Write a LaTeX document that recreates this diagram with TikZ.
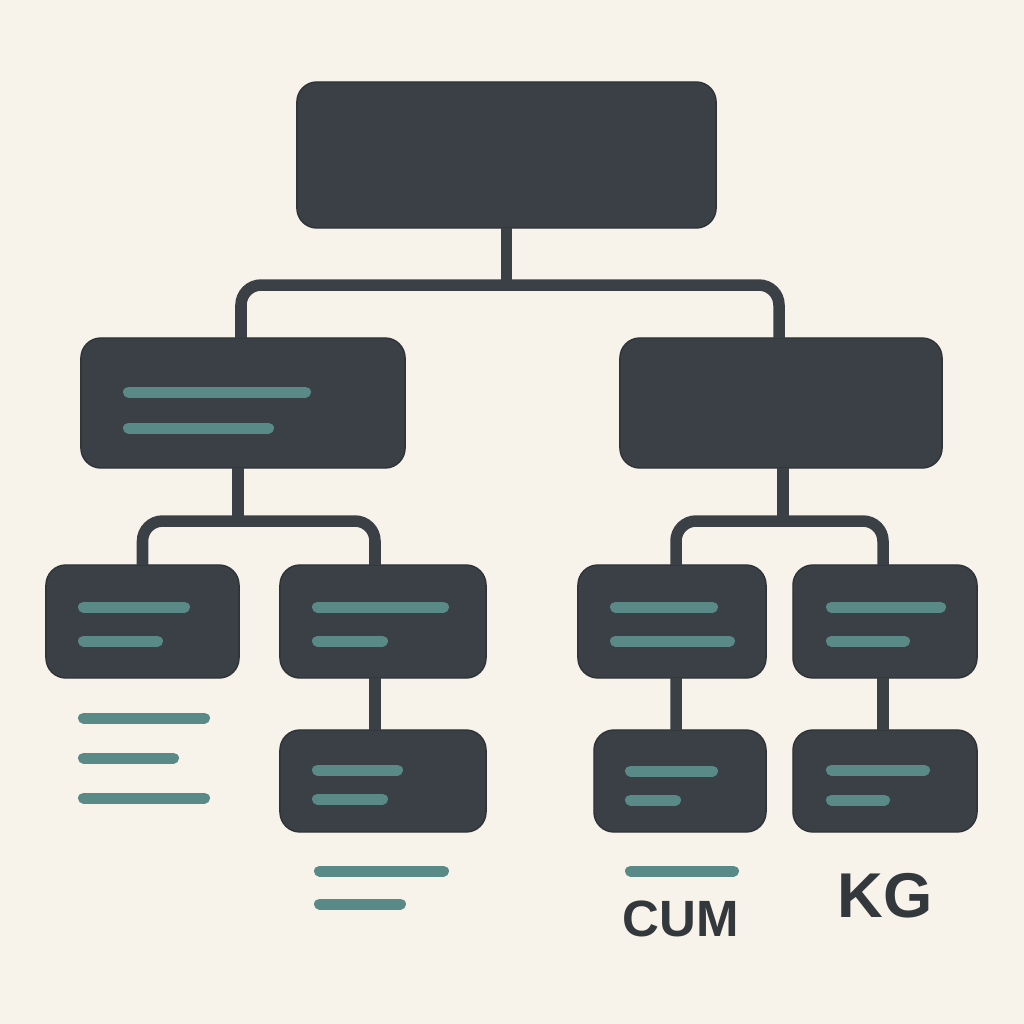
\documentclass[tikz,border=0pt]{standalone}
\usepackage{fontspec}
\setmainfont{Liberation Sans}
\usetikzlibrary{calc}
\definecolor{paper}{HTML}{F8F3EA}
\definecolor{slate}{HTML}{3B4046}
\definecolor{slateedge}{HTML}{2E3338}
\definecolor{teal}{HTML}{5A8A88}
\definecolor{ink}{HTML}{33383D}
\tikzset{
  box/.style={draw=slateedge, line width=0.4pt, fill=slate, rounded corners=0.2cm,
    inner sep=0pt, outer sep=0pt},
  link/.style={draw=slate, line width=0.115cm, rounded corners=0.2cm},
  stub/.style={draw=teal, line width=0.11cm, line cap=round, shorten <=0.055cm, shorten >=0.055cm},
  unit/.style={text=ink, font=\bfseries, inner sep=0pt}
}
\newcommand{\stubline}[3]{\draw[stub] (#1,#3) -- (#2,#3);}

\begin{document}
\begin{tikzpicture}[x=0.01cm, y=-0.01cm]
			%%%%% START %%%%%
			
			\fill[paper] (0,0) rectangle (1024,1024);
			\useasboundingbox (0,0) rectangle (1024,1024);
			
			% boxes
			\node[box, minimum width=4.19cm, minimum height=1.46cm] (top) at (506.5,155) {};
			
			\node[box, minimum width=3.24cm, minimum height=1.30cm] (midL) at (243,403) {};
			\node[box, minimum width=3.22cm, minimum height=1.30cm] (midR) at (781,403) {};
			
			\node[box, minimum width=1.93cm, minimum height=1.13cm] (A) at (142.5,621.5) {};
			\node[box, minimum width=2.06cm, minimum height=1.13cm] (B) at (383,621.5) {};
			\node[box, minimum width=1.88cm, minimum height=1.13cm] (C) at (672,621.5) {};
			\node[box, minimum width=1.84cm, minimum height=1.13cm] (D) at (885,621.5) {};
			
			\node[box, minimum width=2.06cm, minimum height=1.02cm] (B2) at (383,781) {};
			\node[box, minimum width=1.72cm, minimum height=1.02cm] (C2) at (680,781) {};
			\node[box, minimum width=1.84cm, minimum height=1.02cm] (D2) at (885,781) {};
			
			% connectors
			\draw[link] (top.south) -- ++(0,57) coordinate (hubT);
			\draw[link] ([xshift=-0.02cm]midL.north) |- (hubT) -| ([xshift=-0.02cm]midR.north);
			
			\draw[link] ([xshift=-0.05cm]midL.south) -- ++(0,53) coordinate (hubL);
			\draw[link] (A.north) |- (hubL) -| ([xshift=-0.08cm]B.north);
			
			\draw[link] ([xshift=0.02cm]midR.south) -- ++(0,53) coordinate (hubR);
			\draw[link] ([xshift=0.04cm]C.north) |- (hubR) -| ([xshift=-0.02cm]D.north);
			
			\draw[link] ([xshift=-0.08cm]B.south) -- ([xshift=-0.08cm]B2.north);
			\draw[link] ([xshift=0.04cm]C.south) -- ([xshift=-0.04cm]C2.north);
			\draw[link] ([xshift=-0.02cm]D.south) -- ([xshift=-0.02cm]D2.north);
			
			% text placeholders
			\stubline{123}{311}{392}
			\stubline{123}{274}{428}
			
			\stubline{78}{190}{607}
			\stubline{78}{163}{641}
			\stubline{312}{449}{607}
			\stubline{312}{388}{641}
			\stubline{610}{718}{607}
			\stubline{610}{735}{641}
			\stubline{826}{946}{607}
			\stubline{826}{910}{641}
			
			\stubline{78}{210}{718}
			\stubline{78}{179}{758}
			\stubline{78}{210}{798}
			
			\stubline{312}{403}{770}
			\stubline{312}{388}{799}
			\stubline{625}{718}{771}
			\stubline{625}{681}{800}
			\stubline{826}{930}{770}
			\stubline{826}{890}{800}
			
			\stubline{314}{449}{871}
			\stubline{314}{406}{904}
			\stubline{625}{739}{871}
			
			% units
			\node[unit, font=\bfseries\fontsize{14.5}{16}\selectfont] (cum) at (681,919) {CUM};
			\node[unit, font=\bfseries\fontsize{18}{20}\selectfont] (kg) at (885,896) {KG};
			
			%%%%% END %%%%%
\end{tikzpicture}
\end{document}
